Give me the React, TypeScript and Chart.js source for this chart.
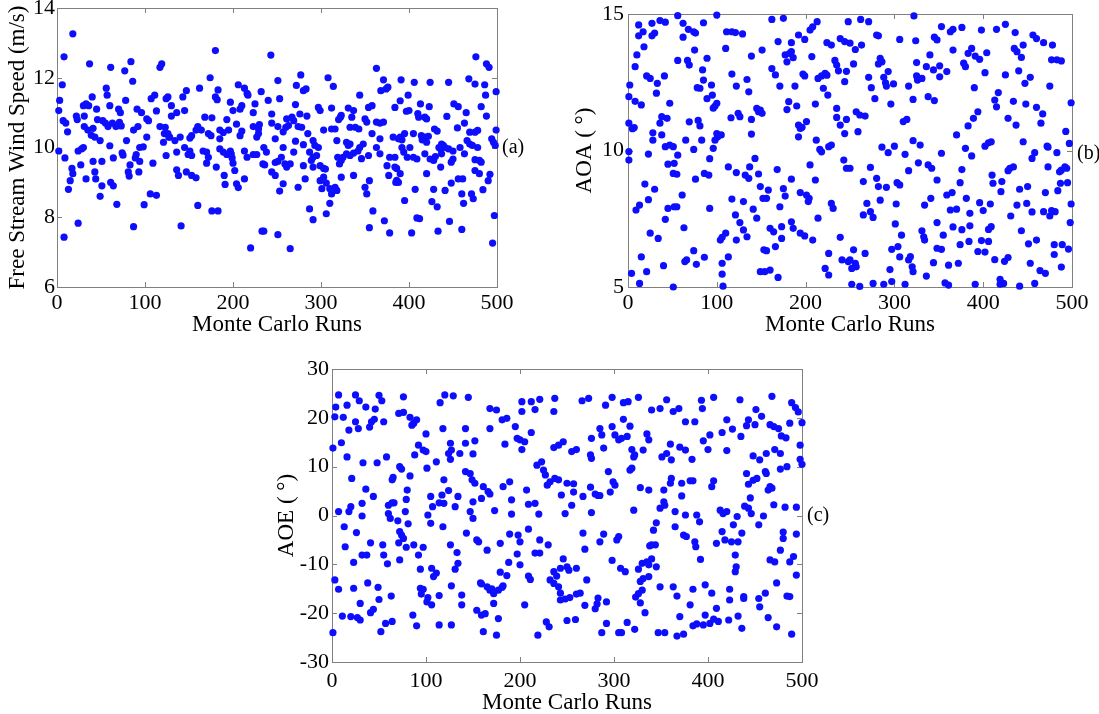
import React, { useEffect, useRef } from "react";
import { Chart, registerables } from "chart.js";

Chart.register(...registerables);

// ---------- DATA (run index, value) ----------
const runTicks = [0, 100, 200, 300, 400, 500];
const windTicks = [6, 8, 10, 12, 14];
const aoaTicks = [5, 10, 15];
const aoeTicks = [-30, -20, -10, 0, 10, 20, 30];

const windSpeed: [number, number][] = [
  [18,13.26],[8,12.6],[37,12.4],[61,12.3],[84,12.46],[77,12.2],[119,12.4],[117,12.3],[6,11.8],[56,11.7],[57,11.5],[40,11.45],[86,11.9],[3,11.35],[2,11.06],[30,11.2],[36,11.2],[33,11.25],[45,11.1],[60,11.2],[78,11.35],[70,11.1],[72,11.0],[91,11.1],[96,11.0],[111,11.5],[107,11.4],[113,11.05],[124,11.4],[7,10.77],[10,10.7],[22,10.9],[23,10.8],[31,10.9],[46,10.8],[52,10.77],[55,10.7],[58,10.6],[12,10.45],[31,10.6],[35,10.5],[41,10.55],[39,10.35],[43,10.3],[63,10.7],[67,10.6],[71,10.72],[73,10.62],[87,10.5],[92,10.6],[104,10.77],[102,10.82],[117,10.6],[122,10.4],[127,10.3],[49,10.2],[30,10.0],[28,9.96],[24,9.9],[60,10.05],[79,10.2],[94,10.0],[98,10.02],[102,10.3],[74,9.85],[75,9.78],[2,9.9],[9,9.7],[90,9.8],[89,9.7],[121,10.15],[41,9.6],[51,9.6],[64,9.7],[94,9.6],[83,9.5],[17,9.4],[18,9.25],[15,9.05],[13,8.8],[27,9.5],[33,9.1],[43,9.3],[44,9.1],[61,9.0],[64,8.9],[81,9.3],[82,9.18],[93,9.3],[109,9.55],[51,8.9],[49,8.6],[68,8.37],[106,8.67],[113,8.63],[99,8.36],[24,7.83],[87,7.73],[8,7.43],
  [180,12.78],[243,12.65],[174,12.0],[251,11.92],[162,11.7],[147,11.63],[183,11.65],[206,11.8],[213,11.7],[216,11.55],[217,11.5],[232,11.6],[180,11.45],[182,11.37],[126,11.45],[130,11.2],[143,11.45],[145,11.06],[253,11.4],[197,11.3],[210,11.2],[208,11.1],[200,11.06],[225,11.25],[223,11.0],[240,11.35],[244,10.96],[130,10.9],[136,11.0],[168,10.87],[176,10.85],[160,10.6],[164,10.5],[158,10.5],[193,10.8],[195,10.5],[204,10.67],[223,10.6],[230,10.66],[229,10.53],[244,10.7],[251,10.6],[126,10.4],[123,10.58],[140,10.3],[134,10.2],[128,10.3],[153,10.34],[151,10.27],[172,10.4],[175,10.34],[185,10.5],[189,10.43],[185,10.25],[208,10.34],[210,10.47],[227,10.3],[229,10.4],[248,10.25],[257,10.45],[124,9.77],[136,9.87],[145,10.0],[151,9.9],[149,9.8],[153,9.77],[166,9.9],[170,9.87],[172,9.72],[185,9.96],[189,9.87],[193,9.8],[197,9.9],[198,9.82],[199,9.7],[200,9.55],[213,9.9],[216,9.72],[223,9.8],[227,9.8],[235,10.0],[238,9.87],[234,9.53],[236,9.5],[248,9.57],[251,9.6],[255,9.72],[170,9.55],[181,9.44],[190,9.2],[191,8.94],[202,9.34],[213,9.1],[204,8.96],[206,8.85],[136,9.36],[138,9.2],[147,9.3],[153,9.2],[158,9.13],[244,9.3],[248,9.2],[253,8.75],[257,8.96],[160,8.34],[176,8.18],[183,8.18],[141,7.75],[233,7.6],[235,7.6],[251,7.5],[220,7.12],
  [363,12.27],[371,11.94],[374,11.68],[376,11.73],[368,11.63],[344,11.5],[308,12.0],[314,11.75],[277,12.08],[272,11.78],[280,11.63],[283,11.68],[271,11.23],[297,11.15],[299,11.06],[312,11.13],[331,11.13],[337,11.06],[335,10.87],[354,11.15],[358,11.2],[384,11.15],[390,11.34],[322,10.87],[323,10.92],[320,10.8],[261,10.82],[267,10.87],[269,10.77],[263,10.63],[260,10.58],[276,10.96],[284,10.9],[350,10.82],[352,10.73],[363,10.73],[367,10.7],[339,10.58],[343,10.53],[333,10.58],[274,10.6],[278,10.58],[303,10.5],[312,10.53],[316,10.53],[285,10.4],[371,10.73],[358,10.4],[367,10.25],[382,10.3],[388,10.25],[271,10.18],[280,10.08],[291,10.2],[293,10.06],[297,10.0],[318,10.2],[329,10.15],[331,10.06],[333,10.1],[344,10.0],[342,9.9],[348,10.1],[363,10.0],[257,10.0],[269,9.87],[287,9.87],[291,9.72],[289,9.63],[295,9.77],[323,9.63],[325,9.72],[319,9.72],[321,9.53],[329,9.82],[333,9.77],[337,9.84],[346,9.68],[354,9.77],[367,9.82],[378,9.72],[384,9.72],[259,9.53],[261,9.44],[265,9.53],[280,9.48],[291,9.44],[299,9.48],[303,9.4],[305,9.38],[375,9.48],[377,9.2],[384,9.44],[385,9.0],[282,9.1],[274,8.86],[299,9.05],[303,9.15],[306,8.98],[301,8.82],[310,8.82],[316,8.86],[318,8.77],[323,9.15],[337,9.2],[355,9.05],[350,8.86],[352,8.67],[312,8.67],[310,8.4],[287,8.24],[291,7.93],[306,8.1],[359,8.18],[355,7.7],[372,7.9],[378,7.55],[265,7.1],
  [476,12.6],[488,12.4],[491,12.3],[391,11.94],[406,11.87],[424,11.87],[445,11.87],[468,11.97],[475,11.82],[486,11.8],[499,11.6],[399,11.5],[487,11.5],[400,11.06],[397,11.04],[413,11.25],[423,11.17],[451,11.25],[456,11.17],[465,11.0],[482,11.17],[488,10.9],[410,10.97],[411,10.87],[418,10.87],[420,10.82],[443,10.89],[463,10.7],[455,10.56],[429,10.53],[432,10.47],[469,10.44],[475,10.44],[478,10.49],[499,10.5],[390,10.3],[392,10.22],[395,10.4],[405,10.4],[414,10.34],[418,10.3],[415,10.22],[422,10.32],[420,10.15],[437,10.1],[439,10.06],[441,10.0],[434,10.0],[436,9.96],[445,9.96],[450,9.9],[458,10.0],[466,10.2],[469,10.1],[472,10.06],[478,10.0],[494,10.25],[496,10.15],[498,10.06],[392,10.0],[401,10.0],[394,9.87],[398,9.72],[405,9.72],[409,9.67],[418,9.82],[424,9.67],[428,9.63],[430,9.74],[437,9.82],[450,9.67],[448,9.58],[463,9.82],[475,9.65],[480,9.63],[482,9.58],[386,9.4],[390,9.25],[436,9.44],[420,9.25],[475,9.34],[480,9.25],[492,9.23],[490,9.05],[456,9.1],[461,9.1],[448,8.98],[386,9.06],[388,9.0],[407,8.8],[428,8.8],[441,8.77],[460,8.67],[471,8.67],[484,8.79],[395,8.48],[426,8.45],[432,8.3],[462,8.4],[473,8.53],[409,7.98],[412,7.96],[446,7.88],[460,7.65],[403,7.55],[433,7.6],[497,8.05],[495,7.26],
];

const aoa: [number, number][] = [
  [12,14.6],[12,14.2],[17,14.35],[27,14.66],[27,14.2],[30,14.3],[36,14.76],[42,14.7],[56,14.94],[62,14.66],[62,14.15],[68,14.44],[74,14.35],[76,14.3],[85,14.68],[100,14.96],[111,14.35],[117,14.35],[110,13.74],[18,13.8],[10,13.5],[8,13.07],[56,13.3],[67,13.3],[69,13.13],[75,13.68],[89,13.38],[84,12.95],[85,12.58],[78,12.3],[81,12.28],[21,12.73],[25,12.64],[41,12.73],[33,12.46],[32,12.1],[2,12.4],[1,11.97],[94,12.4],[95,12.03],[89,11.9],[8,11.8],[15,11.67],[47,11.73],[98,11.63],[96,11.55],[100,11.73],[116,11.2],[38,11.24],[44,11.18],[36,11.0],[1,11.0],[5,10.8],[7,10.84],[69,11.05],[79,11.1],[81,10.9],[28,10.65],[38,10.57],[28,10.38],[42,10.14],[47,10.2],[51,10.14],[65,10.38],[74,10.04],[83,10.38],[100,10.62],[101,10.5],[105,10.57],[98,10.38],[96,10.08],[1,9.96],[1,9.65],[23,9.87],[56,9.83],[45,9.5],[52,9.53],[51,9.16],[55,9.13],[92,9.7],[86,9.16],[91,9.1],[113,9.4],[76,8.95],[19,8.77],[30,8.58],[23,8.2],[13,8.0],[9,7.82],[45,7.88],[52,7.94],[55,7.94],[61,8.37],[92,7.88],[117,8.22],[42,7.48],[63,7.17],[25,6.97],[34,6.78],[104,6.72],[106,6.82],[110,6.97],[74,6.33],[66,5.99],[64,5.93],[77,5.83],[86,6.09],[15,6.1],[40,5.78],[106,5.87],[113,6.1],[4,5.5],[21,5.56],[13,5.13],[106,5.47],[51,5.0],[107,5.03],
  [162,14.8],[175,14.84],[121,14.32],[129,14.27],[205,14.41],[208,14.53],[213,14.72],[169,13.99],[184,13.95],[192,14.23],[199,14.07],[224,13.95],[229,13.86],[239,14.1],[244,13.99],[151,13.68],[139,13.46],[177,13.5],[182,13.56],[184,13.62],[179,13.25],[186,13.4],[207,13.44],[233,13.3],[235,13.13],[237,12.92],[246,12.9],[162,13.0],[166,12.77],[117,12.8],[122,12.36],[134,12.6],[136,12.15],[171,12.36],[188,12.36],[199,12.73],[197,12.8],[214,12.64],[218,12.73],[222,12.83],[224,12.76],[220,12.28],[225,12.03],[244,12.52],[181,11.79],[190,11.63],[179,11.5],[211,11.7],[145,11.54],[147,11.42],[149,11.48],[151,11.36],[124,11.36],[126,11.24],[139,11.14],[235,11.54],[235,11.21],[246,11.14],[239,10.93],[192,10.93],[194,10.81],[196,10.85],[201,11.06],[192,10.5],[139,10.6],[212,10.38],[216,10.04],[218,9.95],[226,10.14],[229,10.2],[244,10.62],[243,9.65],[143,9.71],[137,9.4],[132,9.1],[122,9.19],[136,8.98],[147,9.14],[168,9.3],[205,9.47],[211,8.92],[184,8.95],[246,9.35],[149,8.68],[158,8.55],[152,8.25],[156,8.25],[175,8.6],[177,8.33],[130,8.13],[141,7.85],[145,7.52],[194,8.46],[201,8.37],[204,8.25],[203,8.13],[171,7.94],[229,8.06],[231,7.88],[214,7.52],[121,7.64],[126,7.36],[130,7.09],[134,6.84],[122,6.72],[160,7.15],[164,7.02],[173,7.21],[184,7.39],[186,7.15],[173,6.78],[166,6.48],[153,6.36],[156,6.33],[194,6.97],[199,6.87],[208,6.72],[239,6.82],[226,6.23],[241,5.99],[248,5.93],[222,5.68],[226,5.44],[149,5.56],[154,5.56],[160,5.62],[169,5.35],
  [248,14.72],[262,14.8],[271,14.72],[322,14.93],[353,14.54],[363,14.35],[366,14.44],[376,14.51],[280,14.23],[282,14.2],[306,14.07],[324,14.02],[345,14.15],[348,14.05],[340,13.5],[366,13.68],[250,13.93],[256,13.7],[263,13.86],[284,13.38],[286,13.25],[282,13.17],[293,12.89],[288,12.68],[290,12.48],[299,12.44],[291,12.36],[316,12.36],[325,13.22],[325,12.73],[331,12.64],[326,12.58],[336,13.07],[344,12.95],[351,13.1],[359,12.89],[351,12.7],[254,13.17],[271,12.68],[274,12.3],[278,11.9],[321,11.87],[338,11.97],[345,11.83],[296,11.7],[257,11.42],[261,11.3],[267,11.26],[259,10.69],[310,11.06],[314,11.14],[370,10.57],[286,10.12],[293,9.92],[300,10.16],[312,9.86],[321,10.36],[329,10.2],[353,9.9],[250,9.35],[273,9.38],[327,9.55],[338,9.47],[342,9.35],[348,8.92],[316,9.26],[280,8.98],[265,8.86],[282,8.68],[291,8.65],[303,8.82],[306,8.74],[359,8.37],[365,8.46],[374,8.82],[269,8.06],[273,7.76],[276,7.55],[265,7.64],[284,8.18],[302,8.04],[334,8.0],[341,8.25],[363,7.82],[370,7.85],[301,7.31],[308,6.9],[348,7.36],[331,7.06],[333,6.84],[334,6.72],[355,6.9],[366,7.2],[376,7.1],[254,6.36],[267,6.23],[297,6.38],[304,6.48],[306,6.1],[316,5.99],[318,6.11],[348,6.42],[353,6.38],[250,5.99],[256,5.87],[252,5.68],[257,5.74],[295,5.64],[320,5.74],[321,5.56],[344,5.89],[361,5.8],[372,5.87],[252,5.1],[261,5.02],[276,5.13],[288,5.1],[297,5.2],[312,5.1],[336,5.4],[357,5.15],[361,5.07],
  [398,14.41],[415,14.44],[425,14.62],[436,14.32],[456,14.23],[460,14.1],[468,13.95],[478,13.86],[435,13.74],[438,13.62],[445,13.86],[443,13.41],[477,13.32],[483,13.32],[488,13.28],[387,13.74],[383,13.56],[391,13.46],[396,13.34],[404,13.58],[378,13.2],[380,13.07],[402,12.85],[425,12.77],[440,12.92],[453,12.68],[447,12.46],[390,12.3],[475,12.36],[417,12.12],[413,11.85],[415,11.6],[434,11.8],[448,11.7],[460,11.58],[467,11.34],[465,11.0],[499,11.75],[394,11.42],[389,11.18],[383,10.9],[428,11.18],[437,10.93],[380,10.08],[387,9.8],[402,10.16],[406,10.28],[409,10.32],[445,10.32],[458,9.92],[455,9.71],[472,10.16],[473,10.12],[483,9.92],[493,10.7],[497,10.26],[376,9.3],[473,9.4],[488,9.28],[486,9.22],[492,9.4],[494,9.35],[428,9.26],[430,9.35],[434,9.4],[410,9.1],[411,8.8],[421,8.86],[420,8.49],[441,8.58],[450,8.68],[470,8.46],[484,8.53],[487,8.8],[495,8.82],[381,8.25],[396,8.09],[408,8.04],[400,7.8],[385,7.7],[438,8.0],[449,8.06],[455,7.75],[468,7.76],[477,7.8],[481,7.76],[475,7.6],[499,8.04],[431,7.6],[385,7.24],[406,7.11],[409,7.21],[443,7.06],[498,7.36],[384,6.67],[398,6.7],[406,6.67],[451,6.58],[460,6.72],[480,6.55],[489,6.55],[496,6.39],[374,6.55],[394,6.3],[402,6.28],[413,6.0],[428,6.08],[424,5.94],[453,5.87],[480,6.19],[488,5.73],[464,5.6],[470,5.5],[391,5.1],[419,5.28],[423,5.13],[419,5.1],[441,5.03],[458,5.13],
];

const aoe: [number, number][] = [
  [7,24.7],[4,22.2],[3,20.2],[12,20.1],[16,22.6],[25,24.7],[29,23.5],[36,22.2],[46,21.8],[50,24.6],[53,23.5],[42,19.2],[45,19.7],[40,18.1],[25,19.2],[28,17.8],[18,17.5],[55,19.2],[76,24.3],[71,20.9],[76,21.1],[83,20.1],[87,18.9],[90,19.6],[85,18.5],[100,16.7],[115,23.1],[118,17.8],[1,13.8],[10,14.9],[16,12.0],[33,10.8],[48,10.8],[58,12.0],[74,9.5],[92,14.4],[97,13.4],[100,13.1],[88,12.4],[101,9.7],[111,11.0],[83,8.1],[65,7.8],[64,7.3],[72,10.0],[21,7.6],[36,5.4],[44,3.9],[32,2.5],[32,-0.1],[18,0.8],[20,1.8],[7,0.8],[13,-2.3],[26,-3.5],[14,-6.4],[60,2.1],[64,2.6],[60,0.4],[62,-0.6],[66,2.6],[70,-1.1],[72,-3.3],[74,-4.0],[76,-4.7],[79,-6.5],[81,-1.7],[78,0.8],[80,5.2],[79,3.3],[105,3.9],[107,1.8],[114,2.6],[117,4.2],[102,0.1],[105,-1.6],[118,-2.3],[41,-5.6],[32,-8.1],[37,-8.1],[54,-6.0],[55,-8.1],[71,-5.6],[72,-9.1],[59,-9.9],[87,-6.0],[92,-8.1],[97,-6.5],[23,-9.6],[3,-13.2],[7,-15.1],[23,-14.9],[38,-13.8],[49,-14.7],[50,-17.2],[63,-16.5],[94,-11.0],[106,-10.8],[111,-11.8],[108,-12.5],[94,-14.9],[97,-15.1],[95,-16.1],[102,-16.8],[106,-18.3],[114,-16.4],[101,-17.7],[30,-18.0],[41,-19.9],[44,-19.2],[30,-21.4],[11,-20.6],[20,-20.7],[27,-20.9],[1,-24.0],[52,-23.8],[57,-22.1],[64,-21.7],[86,-20.4],[90,-22.6],[114,-22.4],
  [120,24.7],[129,24.5],[145,24.2],[168,21.9],[175,21.6],[181,19.6],[186,19.9],[202,23.3],[202,21.3],[212,23.3],[216,21.7],[221,23.8],[237,24.0],[236,21.3],[142,17.8],[168,17.8],[195,18.2],[197,15.8],[200,15.5],[205,15.1],[212,17.0],[184,14.6],[202,13.5],[124,12.7],[127,13.4],[126,11.5],[136,12.7],[142,14.8],[150,12.6],[152,15.3],[126,14.8],[236,13.9],[241,14.4],[246,15.1],[142,9.0],[147,8.6],[149,7.3],[152,6.6],[119,7.3],[124,5.1],[134,3.9],[131,1.8],[119,2.5],[161,5.9],[166,4.9],[168,4.4],[159,3.5],[150,2.8],[147,0.8],[150,-0.6],[173,1.0],[182,5.9],[189,6.9],[191,3.2],[191,0.3],[207,5.2],[209,2.3],[216,2.5],[220,0.3],[218,10.3],[223,11.0],[225,9.3],[227,8.3],[229,6.2],[232,6.9],[237,7.6],[241,7.3],[244,4.2],[126,-6.0],[133,-7.6],[134,-9.8],[131,-11.0],[127,-14.4],[138,-16.3],[138,-18.3],[143,-3.6],[154,-5.0],[156,-5.4],[165,-7.1],[179,-5.7],[189,-3.8],[198,-4.0],[200,-5.4],[209,-2.8],[221,-5.0],[230,-6.0],[216,-7.7],[221,-7.7],[197,-7.9],[200,-10.1],[209,-12.4],[211,-13.1],[188,-9.6],[186,-12.3],[179,-11.6],[158,-13.8],[159,-14.0],[165,-14.6],[168,-15.3],[170,-15.0],[172,-16.0],[177,-15.3],[181,-14.7],[182,-14.4],[172,-18.0],[154,-19.4],[159,-20.4],[163,-20.1],[177,-21.1],[127,-22.4],[161,-23.8],[175,-24.5],[205,-18.3],[219,-24.5],[228,-21.8],[231,-22.8],[236,-11.5],[239,-12.4],[243,-10.8],[241,-14.6],[243,-15.9],[236,-13.9],[232,-13.2],
  [266,23.5],[273,24.0],[291,22.6],[298,24.2],[310,23.1],[315,23.3],[326,24.2],[340,21.6],[349,21.9],[356,23.7],[363,21.3],[369,21.9],[260,13.5],[255,13.1],[276,15.8],[285,17.8],[287,16.5],[298,18.2],[301,16.5],[305,15.5],[308,15.8],[314,16.2],[310,19.7],[317,18.3],[335,16.7],[337,15.5],[331,13.4],[275,12.4],[276,11.7],[289,13.8],[319,13.5],[321,12.0],[322,12.4],[317,9.3],[319,9.7],[351,12.0],[356,12.7],[360,14.6],[361,11.4],[370,14.0],[376,13.4],[294,9.0],[250,6.6],[257,6.5],[257,4.8],[275,5.8],[280,4.4],[283,4.1],[285,4.1],[267,3.9],[296,4.8],[299,6.9],[301,6.2],[328,5.7],[337,5.2],[360,6.6],[361,7.6],[353,5.2],[372,6.6],[255,2.1],[248,0.4],[276,0.6],[321,1.1],[353,2.8],[354,2.1],[349,1.5],[365,0.8],[372,4.0],[365,-2.3],[267,-3.6],[269,-6.9],[285,-5.4],[289,-3.8],[303,-5.0],[305,-4.3],[345,-1.5],[342,-3.0],[340,-6.0],[338,-6.2],[344,-6.0],[374,-4.0],[246,-8.9],[250,-10.5],[252,-11.2],[260,-10.8],[298,-9.2],[307,-10.8],[312,-11.5],[326,-11.0],[330,-9.8],[335,-9.5],[337,-10.1],[340,-8.9],[345,-10.5],[271,-13.2],[328,-13.5],[331,-12.9],[337,-12.5],[330,-15.3],[326,-16.0],[323,-16.7],[248,-17.1],[253,-16.8],[260,-16.1],[264,-15.9],[283,-16.9],[292,-17.7],[282,-18.1],[280,-19.1],[269,-18.4],[328,-17.9],[333,-19.9],[349,-14.6],[363,-14.6],[367,-16.5],[370,-20.7],[243,-17.3],[250,-21.5],[259,-21.3],[292,-22.1],[287,-24.0],[305,-24.0],[308,-24.0],[314,-21.9],[322,-23.3],[347,-24.0],[354,-24.0],[367,-24.7],[374,-24.3],
  [393,23.6],[394,21.9],[406,24.2],[434,23.7],[468,24.4],[489,23.1],[493,22.1],[496,21.2],[500,19.0],[376,19.2],[386,19.2],[395,15.3],[400,13.5],[402,16.5],[415,17.0],[420,19.6],[420,13.3],[426,17.7],[435,16.2],[441,18.4],[443,19.6],[451,21.7],[457,20.3],[450,18.6],[466,18.6],[470,18.2],[475,17.8],[478,16.3],[483,15.9],[487,18.9],[498,14.4],[383,11.5],[448,12.2],[455,11.4],[462,12.7],[471,13.5],[477,12.7],[477,9.5],[484,10.0],[498,11.5],[500,10.5],[381,7.1],[384,7.1],[404,5.9],[406,7.1],[441,8.6],[443,6.4],[448,7.2],[452,7.6],[461,9.0],[462,8.6],[464,5.2],[466,5.9],[468,5.6],[376,0.1],[388,0.1],[391,-1.3],[413,1.1],[416,0.4],[420,0.8],[427,-1.9],[431,-0.2],[439,1.9],[445,3.6],[443,1.5],[446,0.4],[454,-1.9],[459,-0.1],[470,2.2],[482,1.7],[494,1.7],[480,-3.4],[480,-4.7],[494,-3.8],[477,-7.1],[377,-4.3],[386,-5.4],[387,-6.4],[415,-3.3],[418,-5.0],[425,-5.4],[432,-5.4],[436,-3.6],[409,-5.7],[429,-8.1],[430,-10.5],[429,-11.5],[392,-9.0],[466,-9.1],[471,-9.5],[487,-9.5],[491,-8.4],[494,-12.2],[381,-18.3],[384,-15.1],[384,-22.6],[388,-22.2],[397,-14.2],[404,-15.9],[409,-19.0],[411,-21.7],[406,-21.2],[402,-22.1],[395,-22.4],[397,-20.4],[423,-15.1],[423,-17.3],[438,-16.6],[438,-17.0],[422,-21.4],[432,-20.6],[436,-23.1],[454,-17.0],[455,-18.7],[461,-15.9],[464,-20.9],[473,-13.8],[484,-16.5],[487,-16.6],[473,-22.8],[489,-24.3],
];

// ---------- STYLE ----------
const SERIF = '"Liberation Serif", "Times New Roman", Times, serif';
const POINT_COLOR = "rgb(14,14,255)";
const FRAME_COLOR = "#808080";

const framePlugin = {
  id: "frame",
  beforeDatasetsDraw(chart: any) {
    const { ctx, chartArea, scales } = chart;
    const { left, right, top, bottom } = chartArea;
    ctx.save();
    ctx.strokeStyle = FRAME_COLOR;
    ctx.lineWidth = 1;
    ctx.strokeRect(Math.round(left) + 0.5, Math.round(top) + 0.5, Math.round(right - left), Math.round(bottom - top));
    const tl = 5;
    ctx.beginPath();
    scales.x.ticks.forEach((t: any) => {
      const px = Math.round(scales.x.getPixelForValue(t.value)) + 0.5;
      ctx.moveTo(px, bottom); ctx.lineTo(px, bottom - tl);
      ctx.moveTo(px, top); ctx.lineTo(px, top + tl);
    });
    scales.y.ticks.forEach((t: any) => {
      const py = Math.round(scales.y.getPixelForValue(t.value)) + 0.5;
      ctx.moveTo(left, py); ctx.lineTo(left + tl, py);
      ctx.moveTo(right, py); ctx.lineTo(right - tl, py);
    });
    ctx.stroke();
    ctx.restore();
  },
  afterDraw(chart: any, _args: any, opts: any) {
    if (!opts || !opts.label) return;
    const { ctx, chartArea } = chart;
    ctx.save();
    ctx.fillStyle = "#000";
    ctx.font = `20px ${SERIF}`;
    ctx.textAlign = "left";
    ctx.textBaseline = "middle";
    ctx.fillText(opts.label, chartArea.right + 5, (chartArea.top + chartArea.bottom) / 2 + (opts.dy || 0));
    ctx.restore();
  },
};

type PanelProps = {
  data: [number, number][];
  yTicks: number[];
  yTitle: string;
  label: string;
  labelDy: number;
  left: number;
  top: number;
  width: number;
  height: number;
  area: { left: number; top: number; right: number; bottom: number };
  yTitlePad: number;
  yTickPad: number;
  xTickPad: number;
  xTitlePad: number;
};

function Panel(p: PanelProps) {
  const ref = useRef<HTMLCanvasElement | null>(null);
  useEffect(() => {
    if (!ref.current) return;
    const yWidth = p.area.left;
    const xHeight = p.height - p.area.bottom;
    const chart = new Chart(ref.current, {
      type: "scatter",
      data: {
        datasets: [
          {
            data: p.data.map(([x, y]) => ({ x, y })),
            pointStyle: "circle",
            pointRadius: 3.6,
            pointBackgroundColor: POINT_COLOR,
            pointBorderWidth: 0,
            clip: false as any,
          },
        ],
      },
      options: {
        responsive: false,
        animation: false,
        events: [],
        layout: { padding: { left: 0, top: p.area.top, right: p.width - p.area.right, bottom: 0 } },
        plugins: {
          legend: { display: false },
          tooltip: { enabled: false },
          frame: { label: p.label, dy: p.labelDy },
        } as any,
        scales: {
          x: {
            type: "linear",
            min: runTicks[0],
            max: runTicks[runTicks.length - 1],
            afterBuildTicks: (s: any) => { s.ticks = runTicks.map((v) => ({ value: v })); },
            ticks: { autoSkip: false, maxRotation: 0, padding: p.xTickPad, color: "#000", font: { family: SERIF, size: 22 } },
            grid: { display: false, drawTicks: false },
            border: { display: false },
            title: { display: true, text: "Monte Carlo Runs", color: "#000", font: { family: SERIF, size: 23 }, padding: { top: 0, bottom: p.xTitlePad } },
            afterFit: (s: any) => { s.height = xHeight; s.paddingLeft = 0; s.paddingRight = 0; s.paddingTop = 0; s.paddingBottom = 0; },
          },
          y: {
            type: "linear",
            min: p.yTicks[0],
            max: p.yTicks[p.yTicks.length - 1],
            afterBuildTicks: (s: any) => { s.ticks = p.yTicks.map((v) => ({ value: v })); },
            ticks: { autoSkip: false, padding: p.yTickPad, color: "#000", font: { family: SERIF, size: 22 } },
            grid: { display: false, drawTicks: false },
            border: { display: false },
            title: { display: true, text: p.yTitle, color: "#000", font: { family: SERIF, size: 23 }, padding: { top: p.yTitlePad, bottom: 0 } },
            afterFit: (s: any) => { s.width = yWidth; s.paddingLeft = 0; s.paddingRight = 0; s.paddingTop = 0; s.paddingBottom = 0; },
          },
        },
      },
      plugins: [framePlugin],
    });
    return () => chart.destroy();
  }, []);
  return (
    <canvas
      ref={ref}
      width={p.width}
      height={p.height}
      style={{ position: "absolute", left: p.left, top: p.top, width: p.width, height: p.height }}
    />
  );
}

export default function App() {
  return (
    <div style={{ position: "absolute", left: 0, top: 0, width: 1099, height: 714, overflow: "hidden", background: "#fff" }}>
      <Panel
        data={windSpeed}
        yTicks={windTicks}
        yTitle="Free Stream Wind Speed (m/s)"
        label="(a)"
        labelDy={0}
        left={0}
        top={0}
        width={560}
        height={340}
        area={{ left: 57, top: 8, right: 497, bottom: 287 }}
        yTitlePad={4}
        yTickPad={2}
        xTickPad={3}
        xTitlePad={1}
      />
      <Panel
        data={aoa}
        yTicks={aoaTicks}
        yTitle="AOA ( °)"
        label="(b)"
        labelDy={3}
        left={560}
        top={0}
        width={539}
        height={340}
        area={{ left: 68, top: 14, right: 512, bottom: 287 }}
        yTitlePad={11}
        yTickPad={4}
        xTickPad={3}
        xTitlePad={1}
      />
      <Panel
        data={aoe}
        yTicks={aoeTicks}
        yTitle="AOE ( °)"
        label="(c)"
        labelDy={0}
        left={270}
        top={340}
        width={560}
        height={374}
        area={{ left: 62, top: 29, right: 532, bottom: 322 }}
        yTitlePad={3}
        yTickPad={3}
        xTickPad={6}
        xTitlePad={-3}
      />
    </div>
  );
}
